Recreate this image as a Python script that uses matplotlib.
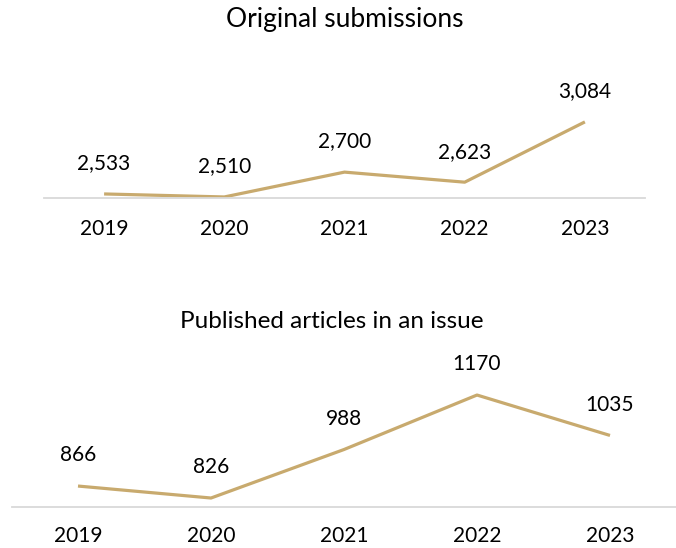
import matplotlib.pyplot as plt

plt.rcParams['font.family'] = ['Lato', 'DejaVu Sans']

years = ['2019', '2020', '2021', '2022', '2023']
submissions = [2533, 2510, 2700, 2623, 3084]
published = [866, 826, 988, 1170, 1035]
sub_labels = ['2,533', '2,510', '2,700', '2,623', '3,084']
pub_labels = ['866', '826', '988', '1170', '1035']

line_color = '#C8AA6E'
axis_color = '#D9D9D9'

fig = plt.figure(figsize=(6.76, 5.48), dpi=100)


def draw(ax, values, labels, ylim, pad):
    x = range(len(years))
    ax.plot(x, values, color=line_color, linewidth=2.3, solid_capstyle='butt')
    for xi, v, lab in zip(x, values, labels):
        ax.annotate(lab, (xi, v), xytext=(0, 22), textcoords='offset points',
                    ha='center', va='center', fontsize=15, color='black')
    ax.set_xlim(-0.5, len(years) - 0.5)
    ax.set_ylim(*ylim)
    ax.set_xticks(list(x))
    ax.set_xticklabels(years, fontsize=15)
    ax.set_yticks([])
    ax.tick_params(axis='x', length=0, pad=pad)
    for s in ['top', 'right', 'left']:
        ax.spines[s].set_visible(False)
    ax.spines['bottom'].set_color(axis_color)
    ax.spines['bottom'].set_linewidth(1.3)
    ax.patch.set_alpha(0)


ax1 = fig.add_axes([44 / 676, 1 - 198 / 548, 601 / 676, 128 / 548])
draw(ax1, submissions, sub_labels, (2502, 3481), 15)

ax2 = fig.add_axes([11.5 / 676, 1 - 507 / 548, 665 / 676, 147 / 548])
draw(ax2, published, pub_labels, (796, 1287), 14)

fig.text(345 / 676, 1 - 20 / 548, 'Original submissions', ha='center', va='center',
         fontsize=19, fontweight='normal')
fig.text(332 / 676, 1 - 322 / 548, 'Published articles in an issue', ha='center', va='center',
         fontsize=17.5, fontweight='normal')

fig.savefig('out.png', dpi=100)
